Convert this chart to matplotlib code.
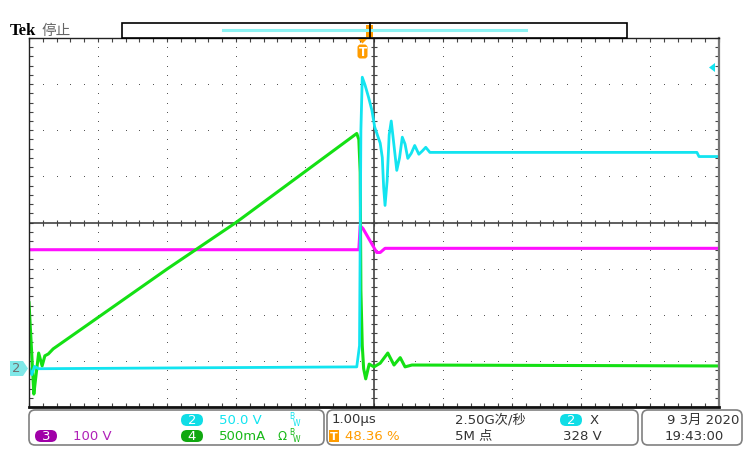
import numpy as np
import matplotlib
matplotlib.use("Agg")
import matplotlib.pyplot as plt
from matplotlib.patches import Rectangle, FancyBboxPatch, Polygon

plt.rcParams['font.family'] = ['DejaVu Sans', 'Noto Sans CJK SC']

# traces, in screen divisions (x: 0..10, y: -4..4)
cyan_t = [0.00, 0.04, 0.08, 0.14, 4.75, 4.79, 4.81, 4.83, 4.87, 4.92, 4.97, 5.01, 5.06, 5.09,
          5.12, 5.14, 5.16, 5.19, 5.22, 5.25, 5.28, 5.33, 5.37, 5.41, 5.45, 5.49, 5.54,
          5.59, 5.65, 5.70, 5.75, 5.81, 9.68, 9.71, 10.0]
cyan_v = [-3.15, -3.30, -3.12, -3.17, -3.13, -2.67, 2.00, 3.15, 2.98, 2.72, 2.43, 2.07, 1.85, 1.72,
          1.41, 0.76, 0.37, 0.90, 1.90, 2.20, 1.80, 1.13, 1.40, 1.85, 1.70, 1.39, 1.50,
          1.67, 1.48, 1.55, 1.63, 1.52, 1.52, 1.43, 1.43]

mag_t = [0.0, 4.78, 4.80, 4.84, 5.04, 5.09, 5.16, 10.0]
mag_v = [-0.59, -0.59, -0.07, -0.13, -0.65, -0.65, -0.56, -0.56]

green_t = [0.00, 0.03, 0.07, 0.10, 0.14, 0.19, 0.23, 0.28, 0.35, 2.01, 3.00, 4.75, 4.78, 4.80,
           4.81, 4.83, 4.85, 4.88, 4.93, 5.00, 5.09, 5.20, 5.29, 5.38, 5.45, 5.55, 10.0]
green_v = [-1.74, -2.57, -3.72, -3.33, -2.83, -3.11, -2.89, -2.85, -2.74, -1.00, 0.00, 1.93, 1.80, 1.09,
           -1.48, -2.67, -3.17, -3.39, -3.07, -3.13, -3.05, -2.83, -3.09, -2.93, -3.13, -3.09, -3.11]

CYAN = '#12E4F0'
MAG = '#FF10FF'
GREEN = '#14E014'
ORANGE = '#FF9C00'

fig = plt.figure(figsize=(7.56, 4.59), dpi=100)

# scope screen
ax = fig.add_axes([29 / 756, 1 - 407 / 459, 690 / 756, 369 / 459])
ax.set_xlim(0, 10)
ax.set_ylim(-4, 4)
ax.set_facecolor('white')

# pixel overlay for the scope decorations, drawn on top
bg = fig.add_axes([0, 0, 1, 1])
bg.set_xlim(0, 756)
bg.set_ylim(459, 0)
bg.axis('off')

# dotted graticule
fine = np.arange(0, 10.01, 0.2)
fine_y = np.arange(-4, 4.01, 0.2)
for gx in range(1, 10):
    if gx != 5:
        ax.plot(np.full_like(fine_y, gx), fine_y, ls='none', marker='s', ms=0.7, mew=0, color='#555555')
for gy in range(-3, 4):
    if gy != 0:
        ax.plot(fine, np.full_like(fine, gy), ls='none', marker='s', ms=0.7, mew=0, color='#555555')

ax.axhline(0, color='#333333', lw=1.1)
ax.axvline(5, color='#333333', lw=1.1)
ax.plot(fine, np.zeros_like(fine), ls='none', marker='|', ms=5, mew=0.8, color='#444444')
ax.plot(np.full_like(fine_y, 5), fine_y, ls='none', marker='_', ms=5, mew=0.8, color='#444444')

ax.set_xticks(np.arange(0, 11, 1))
ax.set_yticks(np.arange(-4, 5, 1))
ax.set_xticks(fine, minor=True)
ax.set_yticks(fine_y, minor=True)
ax.tick_params(which='both', direction='in', length=3, width=0.8, color='#444444',
               top=True, right=True, labelbottom=False, labelleft=False)
for s in ['left', 'top']:
    ax.spines[s].set_color('#222222')
    ax.spines[s].set_linewidth(1.0)
ax.spines['right'].set_color('#777777')
ax.spines['right'].set_linewidth(1.6)
ax.spines['bottom'].set_color('#111111')
ax.spines['bottom'].set_linewidth(2.0)

ax.plot(mag_t, mag_v, color=MAG, lw=2.2, solid_joinstyle='round')
ax.plot(green_t, green_v, color=GREEN, lw=2.2, solid_joinstyle='round')
ax.plot(cyan_t, cyan_v, color=CYAN, lw=2.0, solid_joinstyle='round')

# top bar
bg.text(10, 31, 'Tek', fontsize=12, fontweight='bold', family='Liberation Serif',
        color='black', va='center')
bg.text(41, 31, '停止', fontsize=10.5, family='Noto Sans CJK SC', color='#666666', va='center')
bg.add_patch(Rectangle((122, 23), 505, 15, facecolor='white', edgecolor='black', lw=1.2))
bg.plot([223, 526], [30, 30], color='#8CF2F2', lw=2.2)
bg.add_patch(Rectangle((366, 25), 7, 12, facecolor=ORANGE, edgecolor='none'))
bg.plot([370, 370], [23, 38], color='black', lw=1.2)

# trigger marker
bg.add_patch(Polygon([(358, 39), (367, 39), (362.5, 43.5)], facecolor=ORANGE, edgecolor='none'))
bg.add_patch(FancyBboxPatch((357.5, 44.5), 10, 14, boxstyle='round,pad=0,rounding_size=3',
                            facecolor=ORANGE, edgecolor='none'))
bg.text(362.5, 52, 'T', fontsize=8.5, fontweight='bold', color='white', ha='center', va='center')

# trigger level and channel 2 ground markers
bg.add_patch(Polygon([(709, 67.5), (715, 63), (715, 72)], facecolor=CYAN, edgecolor='none'))
bg.add_patch(Polygon([(10, 361), (23, 361), (28, 368.5), (23, 376), (10, 376)],
                     facecolor='#80E8E8', edgecolor='none'))
bg.text(16, 369, '2', fontsize=9.5, color='#707070', ha='center', va='center')

# readout panels
for x0, x1 in [(29, 324), (327, 638), (642, 742)]:
    bg.add_patch(FancyBboxPatch((x0, 410), x1 - x0, 35, boxstyle='round,pad=0,rounding_size=6',
                                facecolor='white', edgecolor='#808080', lw=1.2))


def pill(x, y, label, color, w=22):
    bg.add_patch(FancyBboxPatch((x - w / 2, y - 6), w, 12, boxstyle='round,pad=0,rounding_size=6',
                                facecolor=color, edgecolor='none'))
    bg.text(x, y + 0.5, label, fontsize=9.5, color='white', ha='center', va='center')


pill(192, 420, '2', '#10DDE6')
pill(46, 436, '3', '#A000A8')
pill(192, 436, '4', '#10A810')
pill(571, 420, '2', '#10DDE6')

fs = 9.5
bg.text(219, 420, '50.0 V', fontsize=fs, color=CYAN, va='center')
bg.text(289, 416.5, 'B', fontsize=5.5, color=CYAN, va='center')
bg.text(293, 423, 'W', fontsize=5.5, color=CYAN, va='center')
bg.text(73, 436, '100 V', fontsize=fs, color='#B020B8', va='center')
bg.text(219, 436, '500mA', fontsize=fs, color='#18B818', va='center')
bg.text(277, 436, 'Ω', fontsize=8.5, color='#18B818', va='center')
bg.text(289, 432.5, 'B', fontsize=5.5, color='#18B818', va='center')
bg.text(293, 439, 'W', fontsize=5.5, color='#18B818', va='center')

bg.text(332, 420, '1.00µs', fontsize=fs, color='#333333', va='center')
bg.add_patch(Rectangle((329, 430), 10, 12, facecolor=ORANGE, edgecolor='none'))
bg.text(334, 436.5, 'T', fontsize=8, fontweight='bold', color='white', ha='center', va='center')
bg.text(345, 436, '48.36 %', fontsize=fs, color=ORANGE, va='center')
bg.text(455, 420, '2.50G次/秒', fontsize=fs, color='#333333', va='center')
bg.text(455, 436, '5M 点', fontsize=fs, color='#333333', va='center')
bg.text(590, 420, 'X', fontsize=fs, color='#333333', va='center')
bg.text(602, 436, '328 V', fontsize=fs, color='#333333', ha='right', va='center')

bg.text(739, 420, '9 3月 2020', fontsize=fs, color='#333333', ha='right', va='center')
bg.text(665, 436, '19:43:00', fontsize=fs, color='#333333', va='center')

fig.savefig('out.png', dpi=100)
